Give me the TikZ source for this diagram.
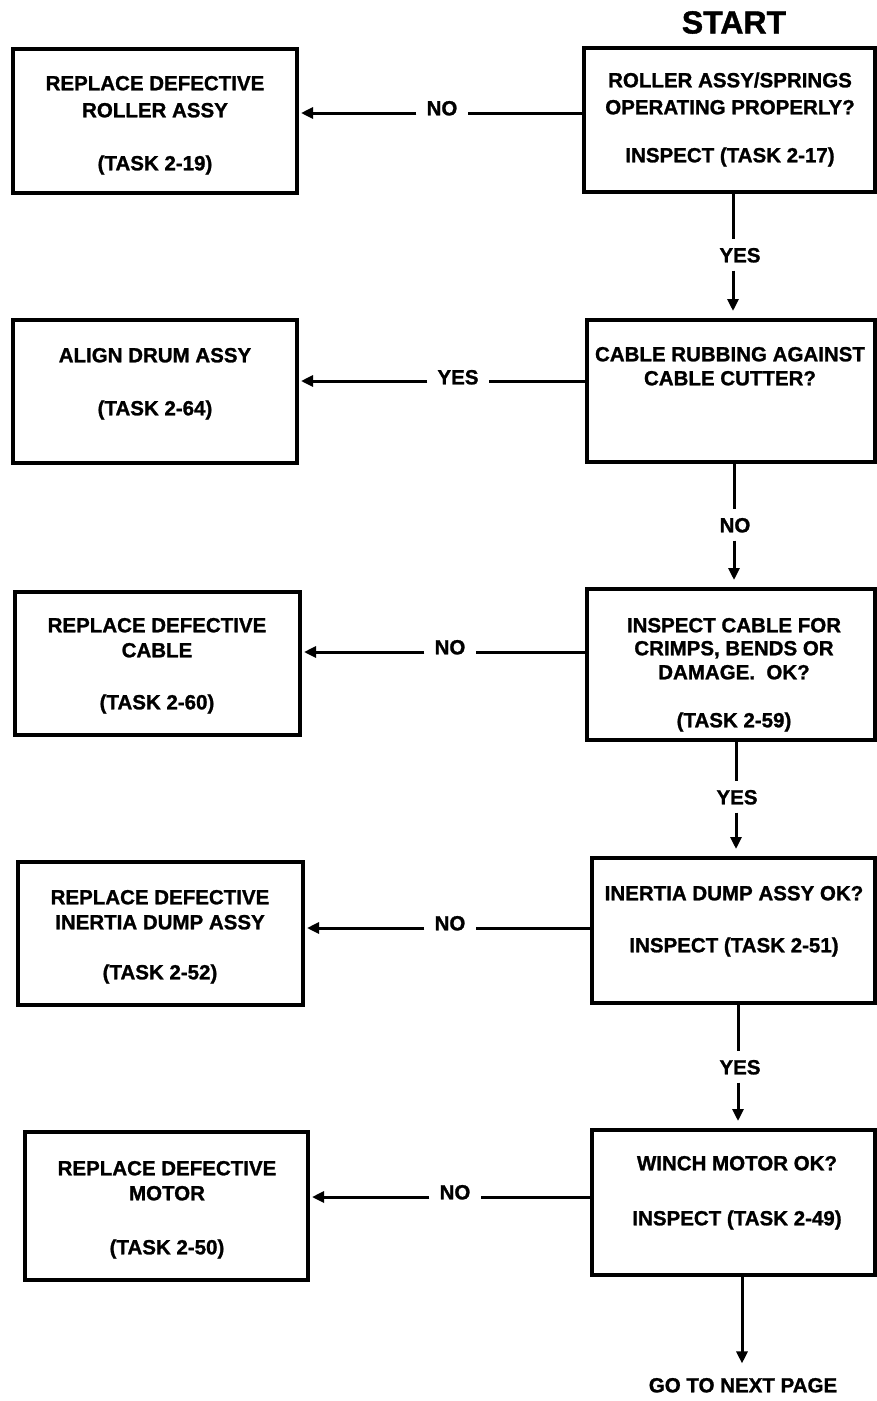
\documentclass[tikz,border=0pt]{standalone}
\usepackage{fontspec}
\setmainfont{Liberation Sans}[BoldFeatures={FakeBold=1.2}]
\usetikzlibrary{arrows.meta}
\newcommand\flfont{\fontsize{20.5}{24}\selectfont\bfseries}
\newcommand\tline[4]{\node[txt] (#1) at (#2,#3+7.3) {#4};}
\begin{document}
\begin{tikzpicture}[x=1pt,y=-1pt,
  box/.style={draw,line width=3.4pt,inner sep=0pt,outer sep=0pt},
  txt/.style={font=\flfont,anchor=base,inner sep=0pt},
  lab/.style={font=\flfont,inner xsep=10pt,inner ysep=8pt,text height=14.7pt,text depth=0pt},
  conn/.style={line width=3pt},
  arr/.style={line width=3pt,-{Triangle[length=12pt,width=11pt]}}]
\useasboundingbox (0,0) rectangle (877,1401);
% START
\node[font=\fontsize{32}{36}\selectfont\bfseries,anchor=base,inner sep=0pt] (start) at (734,33.5) {START};
% boxes
\node[box,minimum width=284pt,minimum height=144pt] (l1) at (155,121) {};
\node[box,minimum width=291pt,minimum height=144pt] (r1) at (729.5,120) {};
\node[box,minimum width=284pt,minimum height=143pt] (l2) at (155,391.5) {};
\node[box,minimum width=288pt,minimum height=142pt] (r2) at (731,391) {};
\node[box,minimum width=285pt,minimum height=143pt] (l3) at (157.5,663.5) {};
\node[box,minimum width=288pt,minimum height=151pt] (r3) at (731,664.5) {};
\node[box,minimum width=285pt,minimum height=143pt] (l4) at (160.5,933.5) {};
\node[box,minimum width=283pt,minimum height=145pt] (r4) at (733.5,930.5) {};
\node[box,minimum width=283pt,minimum height=148pt] (l5) at (166.5,1206) {};
\node[box,minimum width=283pt,minimum height=145pt] (r5) at (733.5,1202.5) {};
% texts
\tline{l1a}{155}{83}{REPLACE DEFECTIVE}
\tline{l1b}{155}{110}{ROLLER ASSY}
\tline{l1c}{155}{163}{(TASK 2-19)}
\tline{r1a}{730}{80}{ROLLER ASSY/SPRINGS}
\tline{r1b}{730}{107}{OPERATING PROPERLY?}
\tline{r1c}{730}{155}{INSPECT (TASK 2-17)}
\tline{l2a}{155}{355}{ALIGN DRUM ASSY}
\tline{l2b}{155}{408}{(TASK 2-64)}
\tline{r2a}{730}{354}{CABLE RUBBING AGAINST}
\tline{r2b}{730}{378}{CABLE CUTTER?}
\tline{l3a}{157}{625}{REPLACE DEFECTIVE}
\tline{l3b}{157}{650}{CABLE}
\tline{l3c}{157}{702}{(TASK 2-60)}
\tline{r3a}{734}{625}{INSPECT CABLE FOR}
\tline{r3b}{734}{648}{CRIMPS, BENDS OR}
\tline{r3c}{734}{672}{DAMAGE.\ \ OK?}
\tline{r3d}{734}{720}{(TASK 2-59)}
\tline{l4a}{160}{897}{REPLACE DEFECTIVE}
\tline{l4b}{160}{922}{INERTIA DUMP ASSY}
\tline{l4c}{160}{972}{(TASK 2-52)}
\tline{r4a}{734}{893}{INERTIA DUMP ASSY OK?}
\tline{r4b}{734}{945}{INSPECT (TASK 2-51)}
\tline{l5a}{167}{1168}{REPLACE DEFECTIVE}
\tline{l5b}{167}{1193}{MOTOR}
\tline{l5c}{167}{1247}{(TASK 2-50)}
\tline{r5a}{737}{1163}{WINCH MOTOR OK?}
\tline{r5b}{737}{1218}{INSPECT (TASK 2-49)}
% horizontal labels and rows
\node[lab] (no1) at (442,108) {NO};
\node[lab] (yes2) at (458,377) {YES};
\node[lab] (no3) at (450,647) {NO};
\node[lab] (no4) at (450,923) {NO};
\node[lab] (no5) at (455,1192) {NO};
\coordinate (h1) at (0,113);
\coordinate (h2) at (0,381);
\coordinate (h3) at (0,652);
\coordinate (h4) at (0,928);
\coordinate (h5) at (0,1197);
\draw[conn] (r1.west |- h1) -- (no1.east |- h1);
\draw[arr,shorten >=4pt] (no1.west |- h1) -- (l1.east |- h1);
\draw[conn] (r2.west |- h2) -- (yes2.east |- h2);
\draw[arr,shorten >=4pt] (yes2.west |- h2) -- (l2.east |- h2);
\draw[conn] (r3.west |- h3) -- (no3.east |- h3);
\draw[arr,shorten >=4pt] (no3.west |- h3) -- (l3.east |- h3);
\draw[conn] (r4.west |- h4) -- (no4.east |- h4);
\draw[arr,shorten >=4pt] (no4.west |- h4) -- (l4.east |- h4);
\draw[conn] (r5.west |- h5) -- (no5.east |- h5);
\draw[arr,shorten >=4pt] (no5.west |- h5) -- (l5.east |- h5);
% vertical labels
\node[lab] (yes1) at (740,255) {YES};
\node[lab] (no2) at (735,525) {NO};
\node[lab] (yes3) at (737,797) {YES};
\node[lab] (yes4) at (740,1067) {YES};
\node[lab,inner ysep=14pt] (go) at (743,1385) {GO TO NEXT PAGE};
\coordinate (v1) at (733,0);
\coordinate (v2) at (734,0);
\coordinate (v3) at (736,0);
\coordinate (v4) at (738,0);
\coordinate (v5) at (742,0);
\draw[conn] (r1.south -| v1) -- (yes1.north -| v1);
\draw[arr,shorten >=9pt] (yes1.south -| v1) -- (r2.north -| v1);
\draw[conn] (r2.south -| v2) -- (no2.north -| v2);
\draw[arr,shorten >=9pt] (no2.south -| v2) -- (r3.north -| v2);
\draw[conn] (r3.south -| v3) -- (yes3.north -| v3);
\draw[arr,shorten >=9pt] (yes3.south -| v3) -- (r4.north -| v3);
\draw[conn] (r4.south -| v4) -- (yes4.north -| v4);
\draw[arr,shorten >=9pt] (yes4.south -| v4) -- (r5.north -| v4);
\draw[arr] (r5.south -| v5) -- (go.north -| v5);
\end{tikzpicture}
\end{document}
